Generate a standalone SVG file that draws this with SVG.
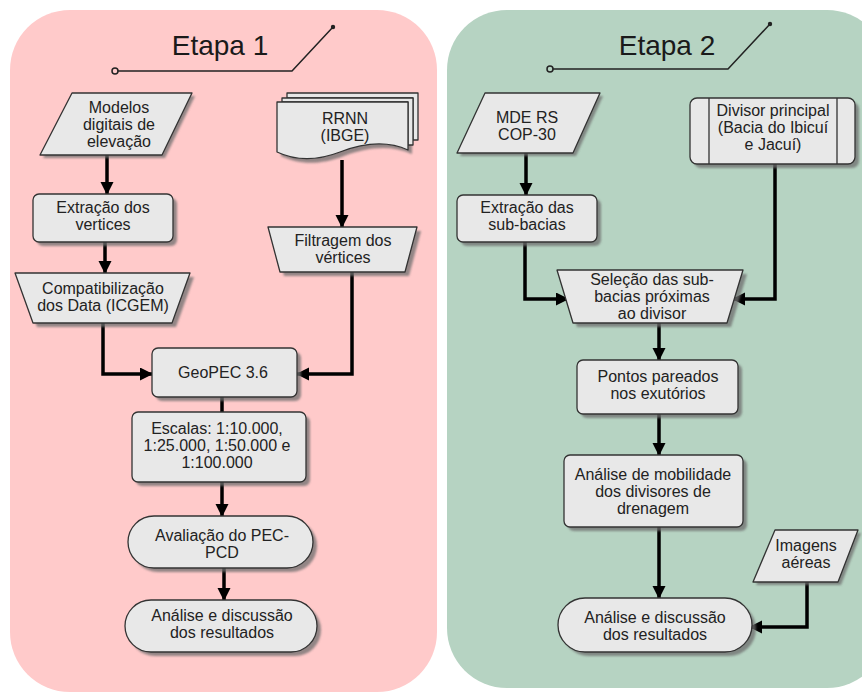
<svg xmlns="http://www.w3.org/2000/svg" width="862" height="693" viewBox="0 0 862 693">
<defs>
<style>
.sh{fill:#6e6e6e;opacity:0.75;filter:url(#blur)}
.nd{fill:#e8e8e8;stroke:#333;stroke-width:1.3;stroke-linejoin:round}
.tx{font-family:"Liberation Sans",Arial,sans-serif;font-size:16px;fill:#222;text-anchor:middle}
.title{font-family:"Liberation Sans",Arial,sans-serif;font-size:28px;fill:#1a1a1a;text-anchor:middle}
.cn{fill:none;stroke:#000;stroke-width:3.5;stroke-linejoin:miter}
.arr{marker-end:url(#ah)}
.tl{fill:none;stroke:#222;stroke-width:1.5}
</style>
<filter id="blur" x="-10%" y="-10%" width="120%" height="130%"><feGaussianBlur stdDeviation="1"/></filter>
<marker id="ah" markerUnits="userSpaceOnUse" markerWidth="14" markerHeight="14" refX="12" refY="6.5" orient="auto" viewBox="0 0 14 14">
<path d="M0,0 L13,6.5 L0,13 Z" fill="#000"/>
</marker>
</defs>

<g id="panel1">
<rect x="10" y="10" width="427" height="682" rx="60" fill="#ffcaca"/>
<text class="title" x="220" y="55">Etapa 1</text>
<path class="tl" d="M118,71 H292 L333,27"/>
<circle cx="115" cy="71" r="3" fill="#ffcaca" stroke="#222" stroke-width="1.5"/>
<circle cx="333" cy="27" r="2.2" fill="#222"/>
</g>
<g id="panel2">
<rect x="447" y="10" width="440" height="678" rx="60" fill="#b6d3c2"/>
<text class="title" x="667" y="55">Etapa 2</text>
<path class="tl" d="M553,69 H728 L770,24"/>
<circle cx="550" cy="69" r="3" fill="#b6d3c2" stroke="#222" stroke-width="1.5"/>
<circle cx="770" cy="24" r="2.2" fill="#222"/>
</g>

<g id="connectors">
<path class="cn arr" d="M107,155 V194"/>
<path class="cn arr" d="M342,160 V227"/>
<path class="cn arr" d="M105,242 V273"/>
<path class="cn arr" d="M103,323 V374 H152"/>
<path class="cn arr" d="M352,272 V374 H297"/>
<path class="cn" d="M222,397 V412"/>
<path class="cn arr" d="M222,482 V516"/>
<path class="cn arr" d="M224,568 V600"/>
<path class="cn arr" d="M526,153 V195"/>
<path class="cn arr" d="M525,242 V299 H568"/>
<path class="cn arr" d="M775,164 V299 H733"/>
<path class="cn arr" d="M659,323 V360"/>
<path class="cn arr" d="M659,414 V455"/>
<path class="cn arr" d="M659,527 V598"/>
<path class="cn arr" d="M807,582 V627 H750"/>
</g>

<g id="n-modelos">
<polygon class="sh" points="75,96 195,96 165,158 43,158"/>
<polygon class="nd" points="72,93 192,93 162,155 40,155"/>
<text class="tx" x="119" y="113">Modelos</text>
<text class="tx" x="119" y="130">digitais de</text>
<text class="tx" x="119" y="147">elevação</text>
</g>

<g id="n-rrnn">
<path class="sh" d="M281,106 H412 V154 C390,144 365,148 344,156 C318,166 298,164 281,156 Z"/>
<path class="nd" d="M287,93 H418 V140 L413,140 V98 H287 Z"/>
<path class="nd" d="M282,98 H413 V145 L408,145 V102 H282 Z"/>
<path class="nd" d="M277,102 H408 V150 C386,140 361,144 340,152 C314,162 294,160 277,152 Z"/>
<text class="tx" x="345" y="124">RRNN</text>
<text class="tx" x="345" y="141">(IBGE)</text>
</g>

<g id="n-extracao1">
<rect class="sh" x="37" y="198" width="140" height="48" rx="6"/>
<rect class="nd" x="33" y="194" width="140" height="48" rx="6"/>
<text class="tx" x="103" y="213">Extração dos</text>
<text class="tx" x="103" y="230">vertices</text>
</g>

<g id="n-filtragem">
<polygon class="sh" points="272,231 421,231 409,276 284,276"/>
<polygon class="nd" points="268,227 417,227 405,272 280,272"/>
<text class="tx" x="343" y="246">Filtragem dos</text>
<text class="tx" x="343" y="263">vértices</text>
</g>

<g id="n-compat">
<polygon class="sh" points="19,277 194,277 176,327 37,327"/>
<polygon class="nd" points="15,273 190,273 172,323 33,323"/>
<text class="tx" x="103" y="294">Compatibilização</text>
<text class="tx" x="103" y="311">dos Data (ICGEM)</text>
</g>

<g id="n-geopec">
<rect class="sh" x="156" y="352" width="145" height="49" rx="6"/>
<rect class="nd" x="152" y="348" width="145" height="49" rx="6"/>
<text class="tx" x="223" y="378">GeoPEC 3.6</text>
</g>

<g id="n-escalas">
<rect class="sh" x="136" y="416" width="174" height="70" rx="6"/>
<rect class="nd" x="132" y="412" width="174" height="70" rx="6"/>
<text class="tx" x="217" y="434">Escalas: 1:10.000,</text>
<text class="tx" x="217" y="451">1:25.000, 1:50.000 e</text>
<text class="tx" x="217" y="468">1:100.000</text>
</g>

<g id="n-avaliacao">
<rect class="sh" x="132" y="520" width="185" height="52" rx="26"/>
<rect class="nd" x="128" y="516" width="185" height="52" rx="26"/>
<text class="tx" x="222" y="541">Avaliação do PEC-</text>
<text class="tx" x="222" y="558">PCD</text>
</g>

<g id="n-analise1">
<rect class="sh" x="129" y="604" width="192" height="52" rx="26"/>
<rect class="nd" x="125" y="600" width="192" height="52" rx="26"/>
<text class="tx" x="222" y="621">Análise e discussão</text>
<text class="tx" x="222" y="638">dos resultados</text>
</g>

<g id="n-mde">
<polygon class="sh" points="488,96 603,96 576,156 460,156"/>
<polygon class="nd" points="485,93 600,93 573,153 457,153"/>
<text class="tx" x="527" y="123">MDE RS</text>
<text class="tx" x="527" y="140">COP-30</text>
</g>

<g id="n-divisor">
<rect class="sh" x="694" y="102" width="165" height="66" rx="7"/>
<rect class="nd" x="690" y="98" width="165" height="66" rx="7"/>
<path d="M709,98 V164 M837,98 V164" stroke="#333" stroke-width="1.3"/>
<text class="tx" x="773" y="116">Divisor principal</text>
<text class="tx" x="773" y="133">(Bacia do Ibicuí</text>
<text class="tx" x="773" y="150">e Jacuí)</text>
</g>

<g id="n-extracao2">
<rect class="sh" x="461" y="199" width="140" height="47" rx="6"/>
<rect class="nd" x="457" y="195" width="140" height="47" rx="6"/>
<text class="tx" x="527" y="213">Extração das</text>
<text class="tx" x="527" y="230">sub-bacias</text>
</g>

<g id="n-selecao">
<polygon class="sh" points="561,274 747,274 731,327 577,327"/>
<polygon class="nd" points="557,270 743,270 727,323 573,323"/>
<text class="tx" x="652" y="285">Seleção das sub-</text>
<text class="tx" x="652" y="302">bacias próximas</text>
<text class="tx" x="652" y="319">ao divisor</text>
</g>

<g id="n-pontos">
<rect class="sh" x="581" y="364" width="161" height="54" rx="6"/>
<rect class="nd" x="577" y="360" width="161" height="54" rx="6"/>
<text class="tx" x="658" y="382">Pontos pareados</text>
<text class="tx" x="658" y="399">nos exutórios</text>
</g>

<g id="n-mobilidade">
<rect class="sh" x="568" y="459" width="179" height="72" rx="6"/>
<rect class="nd" x="564" y="455" width="179" height="72" rx="6"/>
<text class="tx" x="653" y="480">Análise de mobilidade</text>
<text class="tx" x="653" y="497">dos divisores de</text>
<text class="tx" x="653" y="514">drenagem</text>
</g>

<g id="n-imagens">
<polygon class="sh" points="778,533 861,533 841,585 756,585"/>
<polygon class="nd" points="775,530 858,530 838,582 753,582"/>
<text class="tx" x="806" y="551">Imagens</text>
<text class="tx" x="806" y="568">aéreas</text>
</g>

<g id="n-analise2">
<rect class="sh" x="562" y="602" width="194" height="54" rx="27"/>
<rect class="nd" x="558" y="598" width="194" height="54" rx="27"/>
<text class="tx" x="655" y="623">Análise e discussão</text>
<text class="tx" x="655" y="640">dos resultados</text>
</g>
</svg>
